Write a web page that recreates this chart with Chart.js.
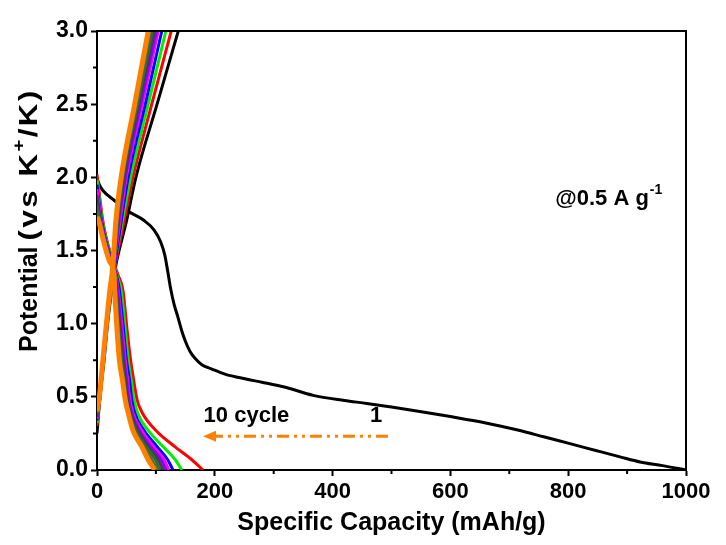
<!DOCTYPE html>
<html><head><meta charset="utf-8">
<script src="https://cdn.jsdelivr.net/npm/chart.js@4/dist/chart.umd.min.js"></script>
<style>html,body{margin:0;padding:0;background:#fff}</style>
</head><body>
<canvas id="c" width="726" height="545"></canvas>
<script>
const X_TICKS = [0, 200, 400, 600, 800, 1000];
const Y_TICKS = [0, 0.5, 1.0, 1.5, 2.0, 2.5, 3.0];
const X_MINOR = [100, 300, 500, 700, 900];
const Y_MINOR = [0.25, 0.75, 1.25, 1.75, 2.25, 2.75];
const CYCLES = ['1','2','3','4','5','6','7','8','9','10'];
const COLORS = ['#000000','#FF0000','#00EE00','#0000FF','#FF00FF','#8B00FF','#404040','#2E6B3A','#556B2F','#FF8000'];
const WIDTHS = [3,3,3,3,3,3,3,3,3,5];

// discharge curves [capacity mAh/g, potential V]
const DIS_1 = [[0,1.99],[4,1.95],[10,1.91],[30,1.84],[52,1.77],[80,1.705],[97,1.64],[108,1.56],[115,1.47],[120,1.36],[125,1.24],[131,1.13],[137,1.05],[144,0.95],[150,0.88],[158,0.81],[166,0.765],[178,0.72],[195,0.69],[217,0.655],[255,0.62],[280,0.60],[320,0.565],[367,0.51],[420,0.475],[458,0.455],[500,0.43],[548,0.40],[600,0.365],[662,0.32],[718,0.27],[760,0.225],[803,0.18],[850,0.13],[888,0.09],[922,0.055],[960,0.03],[1000,0.0]];
const DIS_2 = [[0,2.02],[10,1.7],[18,1.55],[28,1.42],[36,1.33],[44,1.23],[51,0.96],[57,0.75],[62,0.62],[68,0.48],[77,0.39],[100,0.27],[132,0.16],[161,0.07],[180,0]];
const DIS_3 = [[0,1.98],[9,1.7],[17,1.55],[27,1.42],[34,1.33],[41,1.23],[48,0.96],[53,0.75],[58,0.62],[63,0.48],[69,0.39],[87,0.27],[112,0.16],[133,0.07],[144,0]];
const DIS_4 = [[0,1.95],[8,1.7],[16,1.55],[26,1.42],[33,1.33],[38,1.23],[45,0.96],[50,0.75],[55,0.62],[59,0.48],[64,0.39],[80,0.27],[102,0.16],[120,0.07],[129,0]];
const DIS_5 = [[0,1.92],[7,1.7],[15,1.55],[25,1.42],[32,1.33],[36,1.23],[43,0.96],[48,0.75],[52,0.62],[56,0.48],[61,0.39],[76,0.27],[96,0.16],[114,0.07],[122,0]];
const DIS_6 = [[0,1.88],[6,1.7],[15,1.55],[24,1.42],[31,1.33],[35,1.23],[41,0.96],[46,0.75],[50,0.62],[54,0.48],[59,0.39],[72,0.27],[91,0.16],[109,0.07],[117,0]];
const DIS_7 = [[0,1.85],[6,1.7],[14,1.55],[24,1.42],[31,1.33],[33,1.23],[39,0.96],[44,0.75],[48,0.62],[52,0.48],[57,0.39],[69,0.27],[87,0.16],[104,0.07],[112,0]];
const DIS_8 = [[0,1.81],[5,1.7],[14,1.55],[23,1.42],[30,1.33],[32,1.23],[37,0.96],[42,0.75],[46,0.62],[50,0.48],[55,0.39],[66,0.27],[83,0.16],[99,0.07],[107,0]];
const DIS_9 = [[0,1.77],[4,1.7],[13,1.55],[23,1.42],[30,1.33],[31,1.23],[36,0.96],[40,0.75],[44,0.62],[48,0.48],[54,0.39],[63,0.27],[80,0.16],[93,0.07],[103,0]];
const DIS_10 = [[0,1.73],[3,1.7],[12,1.55],[22,1.42],[29,1.33],[30,1.23],[34,0.96],[38,0.75],[43,0.62],[48,0.48],[53,0.39],[61,0.27],[76,0.16],[87,0.07],[98,0]];

// charge curves
const CHG_1 = [[0,0.25],[5,0.5],[12,0.75],[18,1.0],[24,1.2],[32,1.4],[50,1.7],[66,2.0],[102,2.5],[138,3.0]];
const CHG_2 = [[0,0.30],[5,0.5],[11,0.75],[17,1.0],[23,1.2],[31,1.4],[46,1.7],[61,2.0],[93,2.5],[126,3.0]];
const CHG_3 = [[0,0.32],[5,0.5],[11,0.75],[17,1.0],[23,1.2],[30,1.4],[43,1.7],[57,2.0],[87,2.5],[117,3.0]];
const CHG_4 = [[0,0.34],[5,0.5],[11,0.75],[17,1.0],[22,1.2],[30,1.4],[41,1.7],[53,2.0],[82,2.5],[110,3.0]];
const CHG_5 = [[0,0.35],[5,0.5],[11,0.75],[17,1.0],[22,1.2],[29,1.4],[39,1.7],[50,2.0],[77,2.5],[104,3.0]];
const CHG_6 = [[0,0.36],[4,0.5],[11,0.75],[17,1.0],[22,1.2],[29,1.4],[37,1.7],[48,2.0],[74,2.5],[101,3.0]];
const CHG_7 = [[0,0.37],[4,0.5],[10,0.75],[16,1.0],[22,1.2],[28,1.4],[36,1.7],[46,2.0],[71,2.5],[97,3.0]];
const CHG_8 = [[0,0.38],[4,0.5],[10,0.75],[16,1.0],[21,1.2],[28,1.4],[35,1.7],[44,2.0],[69,2.5],[94,3.0]];
const CHG_9 = [[0,0.39],[4,0.5],[10,0.75],[16,1.0],[21,1.2],[28,1.4],[34,1.7],[43,2.0],[67,2.5],[91,3.0]];
const CHG_10 = [[0,0.40],[4,0.5],[10,0.75],[16,1.0],[21,1.2],[27,1.4],[32,1.7],[41,2.0],[64,2.5],[87,3.0]];

const ARROW = [[494,0.23],[192,0.23]];
const ARROW_TIP = [180, 0.23];
const NOTE_CYCLE = {text:'10 cycle', x:181, y:0.37};
const NOTE_ONE = {text:'1', x:474, y:0.37};
const NOTE_RATE = {text:'@0.5 A g', sup:'-1', x:778, y:1.85};
const X_TITLE = 'Specific Capacity (mAh/g)';
const Y_TITLE = ['Potential', '(vs K', '+', '/K)'];

const DIS = [DIS_1,DIS_2,DIS_3,DIS_4,DIS_5,DIS_6,DIS_7,DIS_8,DIS_9,DIS_10];
const CHG = [CHG_1,CHG_2,CHG_3,CHG_4,CHG_5,CHG_6,CHG_7,CHG_8,CHG_9,CHG_10];

const FONT = "'Liberation Sans', Arial, sans-serif";
const toPts = arr => arr.map(p => ({x:p[0], y:p[1]}));

const datasets = [];
CYCLES.forEach((c, i) => {
  const base = {borderColor: COLORS[i], borderWidth: WIDTHS[i], pointRadius: 0, showLine: true,
    cubicInterpolationMode: 'monotone', fill: false, order: 10 - i};
  datasets.push(Object.assign({label: 'Cycle ' + c + ' discharge', data: toPts(DIS[i])}, base));
  datasets.push(Object.assign({label: 'Cycle ' + c + ' charge', data: toPts(CHG[i])}, base));
});
datasets.push({label:'arrow', data: toPts(ARROW), borderColor:'#FF8000', borderWidth:3, pointRadius:0,
  showLine:true, borderDash:[12,5,3,5,3,5], order:-1});

const deco = {
  id: 'deco',
  afterDraw(chart) {
    const {ctx, chartArea: a, scales: {x, y}} = chart;
    ctx.save();
    ctx.strokeStyle = '#000'; ctx.lineWidth = 2;
    ctx.beginPath();
    ctx.moveTo(a.left - 1, a.top); ctx.lineTo(a.right, a.top); ctx.lineTo(a.right, a.bottom + 1);
    X_MINOR.forEach(v => { const px = x.getPixelForValue(v); ctx.moveTo(px, a.bottom); ctx.lineTo(px, a.bottom + 4); });
    Y_MINOR.forEach(v => { const py = y.getPixelForValue(v); ctx.moveTo(a.left, py); ctx.lineTo(a.left - 4, py); });
    ctx.stroke();
    // arrow head
    const tx = x.getPixelForValue(ARROW_TIP[0]), ty = y.getPixelForValue(ARROW_TIP[1]);
    ctx.fillStyle = '#FF8000';
    ctx.beginPath(); ctx.moveTo(tx, ty); ctx.lineTo(tx + 13, ty - 5.5); ctx.lineTo(tx + 13, ty + 5.5); ctx.closePath(); ctx.fill();
    // notes
    ctx.fillStyle = '#000';
    ctx.font = 'bold 22px ' + FONT;
    ctx.textBaseline = 'middle'; ctx.textAlign = 'left';
    ctx.fillText(NOTE_CYCLE.text, x.getPixelForValue(NOTE_CYCLE.x), y.getPixelForValue(NOTE_CYCLE.y));
    ctx.textAlign = 'center';
    ctx.fillText(NOTE_ONE.text, x.getPixelForValue(NOTE_ONE.x), y.getPixelForValue(NOTE_ONE.y));
    ctx.textAlign = 'left';
    const rx = x.getPixelForValue(NOTE_RATE.x), ry = y.getPixelForValue(NOTE_RATE.y);
    ctx.fillText(NOTE_RATE.text, rx, ry);
    const w1 = ctx.measureText(NOTE_RATE.text).width;
    ctx.font = 'bold 14px ' + FONT;
    ctx.fillText(NOTE_RATE.sup, rx + w1 + 1, ry - 9);
    // y title
    ctx.save();
    ctx.translate(30, 352);
    ctx.rotate(-Math.PI / 2);
    ctx.textBaseline = 'middle'; ctx.textAlign = 'left';
    const big = 'bold 25px ' + FONT, small = 'bold 16px ' + FONT;
    ctx.font = big; ctx.fillText(Y_TITLE[0], 0, 0);
    const w0 = ctx.measureText(Y_TITLE[0]).width + 6;
    ctx.translate(w0, 0);
    ctx.scale(1.25, 1);
    let sx = 0;
    ctx.letterSpacing = '2px';
    ctx.font = big; ctx.fillText(Y_TITLE[1], sx, 0); sx += ctx.measureText(Y_TITLE[1]).width;
    ctx.letterSpacing = '0px';
    ctx.font = small; ctx.fillText(Y_TITLE[2], sx, -10); sx += ctx.measureText(Y_TITLE[2]).width + 2;
    ctx.letterSpacing = '2px';
    ctx.font = big; ctx.fillText(Y_TITLE[3], sx, 0);
    ctx.restore();
    ctx.restore();
  }
};

new Chart(document.getElementById('c'), {
  type: 'scatter',
  data: {datasets},
  plugins: [deco],
  options: {
    responsive: false, animation: false, devicePixelRatio: 1,
    layout: {padding: {left: 14, right: 40, top: 31, bottom: 7}},
    plugins: {legend: {display: false}, tooltip: {enabled: false}},
    scales: {
      x: {
        type: 'linear', min: 0, max: 1000,
        afterBuildTicks: s => { s.ticks = X_TICKS.map(v => ({value: v})); },
        afterFit: s => { s.height = 68; },
        ticks: {color: '#000', font: {family: FONT, size: 22, weight: 'bold'}, padding: 3, maxRotation: 0,
          callback: v => String(v)},
        grid: {drawOnChartArea: false, drawTicks: true, tickLength: 6, tickWidth: 2, tickColor: '#000'},
        border: {display: true, width: 2, color: '#000'},
        title: {display: true, text: X_TITLE, color: '#000', font: {family: FONT, size: 25, weight: 'bold'}, padding: {top: 0, bottom: 0}}
      },
      y: {
        type: 'linear', min: 0, max: 3,
        afterBuildTicks: s => { s.ticks = Y_TICKS.map(v => ({value: v})); },
        afterFit: s => { s.width = 83; },
        ticks: {color: '#000', font: {family: FONT, size: 23, weight: 'bold'}, padding: 3,
          callback: v => Number(v).toFixed(1)},
        grid: {drawOnChartArea: false, drawTicks: true, tickLength: 6, tickWidth: 2, tickColor: '#000'},
        border: {display: true, width: 2, color: '#000'},
        title: {display: false}
      }
    }
  }
});
</script>
</body></html>
